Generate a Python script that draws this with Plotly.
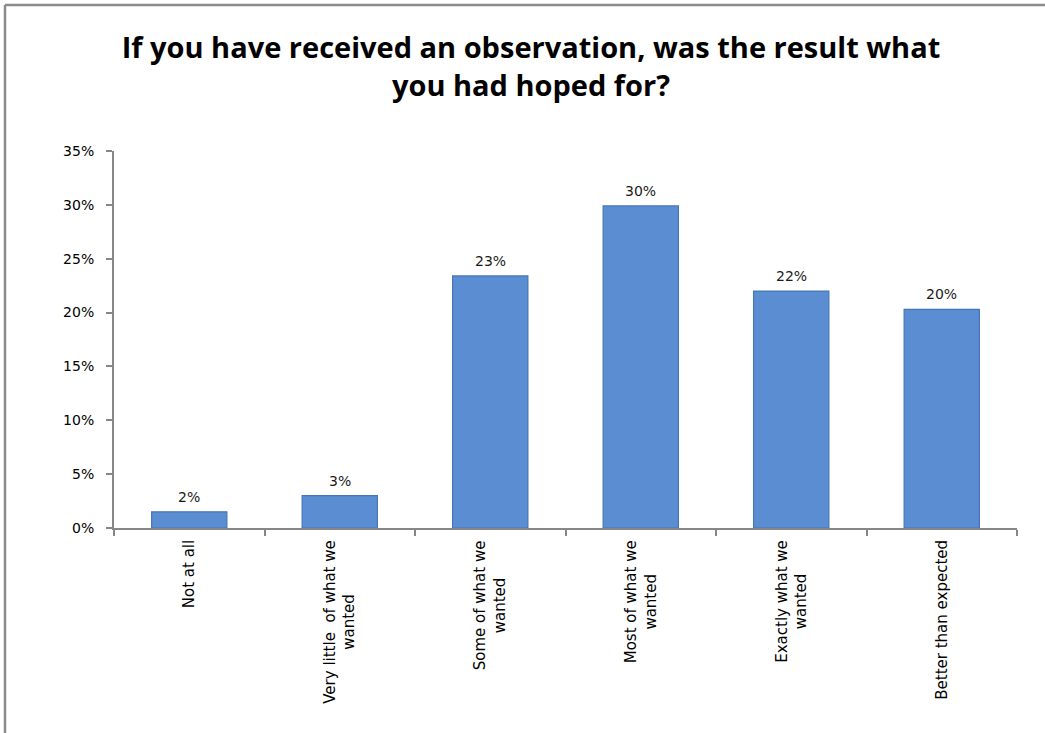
import plotly.graph_objects as go

categories = [
    "Not at all",
    "Very little  of what we<br>wanted",
    "Some of what we<br>wanted",
    "Most of what we<br>wanted",
    "Exactly what we<br>wanted",
    "Better than expected",
]
values = [0.015, 0.030, 0.234, 0.299, 0.220, 0.203]
value_labels = ["2%", "3%", "23%", "30%", "22%", "20%"]
y_ticks = [0, 0.05, 0.10, 0.15, 0.20, 0.25, 0.30, 0.35]
y_tick_labels = ["0%", "5%", "10%", "15%", "20%", "25%", "30%", "35%"]
title_text = "If you have received an observation, was the result what<br>you had hoped for?"

W, H = 1045, 733
L, R, T, B = 114, 28, 151, 205
PW, PH = W - L - R, H - T - B

font_tick = "DejaVu Sans"
axis_gray = "#878787"
border_gray = "#8c8c8c"

fig = go.Figure()
fig.add_trace(go.Bar(
    x=categories,
    y=values,
    marker=dict(color="#5b8dd2", line=dict(color="#4676b8", width=1.2)),
    width=0.5,
    hoverinfo="skip",
))

annotations = []
for c, v, t in zip(categories, values, value_labels):
    annotations.append(dict(
        x=c, y=v, xref="x", yref="y", text=t, showarrow=False,
        yanchor="bottom", xanchor="center", yshift=5,
        font=dict(family=font_tick, size=14, color="#1a1a1a"),
    ))
for c in categories:
    annotations.append(dict(
        x=c, y=0, xref="x", yref="y", text=c, showarrow=False,
        textangle=-90, align="center",
        yanchor="top", xanchor="center", yshift=-10,
        font=dict(family=font_tick, size=15, color="black"),
    ))

fig.update_layout(
    width=W, height=H,
    margin=dict(l=L, r=R, t=T, b=B),
    paper_bgcolor="white",
    plot_bgcolor="white",
    showlegend=False,
    annotations=annotations,
    title=dict(
        text=title_text,
        x=531 / W, xanchor="center",
        y=1 - 58 / H, yanchor="middle",
        font=dict(family="Open Sans", size=29, color="black", weight="bold"),
    ),
    xaxis=dict(
        type="category",
        showline=True, linecolor=axis_gray, linewidth=2,
        ticks="outside", tickson="boundaries", ticklen=6, tickwidth=2, tickcolor=axis_gray,
        showticklabels=False,
        showgrid=False, zeroline=False,
        range=[-0.5, 5.5],
    ),
    yaxis=dict(
        range=[0, 0.35],
        tickvals=y_ticks, ticktext=y_tick_labels,
        showline=True, linecolor=axis_gray, linewidth=2,
        ticks="outside", ticklen=6, tickwidth=2, tickcolor=axis_gray,
        ticklabelstandoff=9,
        tickfont=dict(family=font_tick, size=14, color="black"),
        showgrid=False, zeroline=False,
    ),
    shapes=[
        dict(type="line", xref="paper", yref="paper",
             x0=(5 - L) / PW, x1=(W + 10 - L) / PW,
             y0=(H - B - 5) / PH, y1=(H - B - 5) / PH,
             line=dict(color=border_gray, width=2.5)),
        dict(type="line", xref="paper", yref="paper",
             x0=(5 - L) / PW, x1=(5 - L) / PW,
             y0=(H - B - 5) / PH, y1=-(B + 10) / PH,
             line=dict(color=border_gray, width=2.5)),
    ],
)

fig.write_html(
    "out.html",
    config={"displayModeBar": False},
    post_script="document.body.style.margin='0';document.body.style.overflow='hidden';",
)
